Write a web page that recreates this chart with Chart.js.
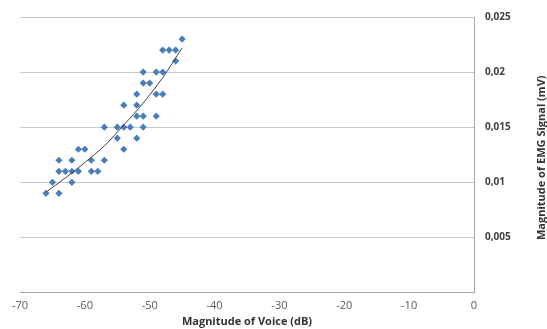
<!DOCTYPE html>
<html>
<head>
<meta charset="utf-8">
<script src="https://cdn.jsdelivr.net/npm/chart.js@4/dist/chart.umd.min.js"></script>
<style>
  html, body { margin: 0; padding: 0; background: #ffffff; }
  #wrap { width: 547px; height: 329px; position: relative; }
</style>
</head>
<body>
<div id="wrap"><canvas id="c" width="547" height="329"></canvas></div>
<script>
// Scatter data: magnitude of voice (dB) vs magnitude of EMG signal (mV)
const voiceDb = [
  -66, -64,
  -65, -62,
  -64, -63, -62, -61, -59, -58,
  -64, -62, -59, -57,
  -61, -60, -54,
  -55, -52,
  -57, -55, -54, -53, -51,
  -52, -51, -49,
  -54, -52,
  -52, -49, -48,
  -51, -50,
  -51, -49, -48,
  -46,
  -48, -47, -46,
  -45
];
const emgMv = [
  0.009, 0.009,
  0.010, 0.010,
  0.011, 0.011, 0.011, 0.011, 0.011, 0.011,
  0.012, 0.012, 0.012, 0.012,
  0.013, 0.013, 0.013,
  0.014, 0.014,
  0.015, 0.015, 0.015, 0.015, 0.015,
  0.016, 0.016, 0.016,
  0.017, 0.017,
  0.018, 0.018, 0.018,
  0.019, 0.019,
  0.020, 0.020, 0.020,
  0.021,
  0.022, 0.022, 0.022,
  0.023
];
// Trend line
const trendX = [-66, -63, -60, -57, -54, -51, -48, -45];
const trendY = [0.0091, 0.0104, 0.0118, 0.0133, 0.0152, 0.0172, 0.0195, 0.0222];
// Axis ticks
const xTicks = [-70, -60, -50, -40, -30, -20, -10, 0];
const yTicks = [0, 0.005, 0.01, 0.015, 0.02, 0.025];

const xTitle = 'Magnitude of Voice (dB)';
const yTitle = 'Magnitude of EMG Signal (mV)';

const points = voiceDb.map((x, i) => ({ x: x, y: emgMv[i] }));
const trend = trendX.map((x, i) => ({ x: x, y: trendY[i] }));

const FONT = "'Open Sans', 'DejaVu Sans', sans-serif";

const yTitlePlugin = {
  id: 'yTitlePlugin',
  afterDraw(chart) {
    const ctx = chart.ctx;
    const ys = chart.scales.y;
    const ca = chart.chartArea;
    ctx.save();
    ctx.translate(ys.right - 5.5, (ca.top + ca.bottom) / 2 + 3);
    ctx.rotate(-Math.PI / 2);
    ctx.font = "bold 11px " + FONT;
    ctx.fillStyle = '#333333';
    ctx.textAlign = 'center';
    ctx.textBaseline = 'middle';
    ctx.fillText(yTitle, 0, 0);
    ctx.restore();
  }
};

new Chart(document.getElementById('c'), {
  type: 'scatter',
  data: {
    datasets: [
      {
        type: 'line',
        data: trend,
        borderColor: '#404040',
        borderWidth: 1,
        pointRadius: 0,
        fill: false,
        cubicInterpolationMode: 'monotone'
      },
      {
        data: points,
        pointStyle: 'rectRot',
        pointRadius: 3.6,
        backgroundColor: '#4a7ebb',
        borderColor: '#4a7ebb',
        borderWidth: 0
      }
    ]
  },
  options: {
    responsive: false,
    animation: false,
    devicePixelRatio: 1,
    layout: { padding: { left: 20, top: 13, right: 0, bottom: 0 } },
    plugins: { legend: { display: false }, tooltip: { enabled: false } },
    scales: {
      x: {
        type: 'linear',
        position: 'bottom',
        min: xTicks[0],
        max: xTicks[xTicks.length - 1],
        afterBuildTicks(scale) { scale.ticks = xTicks.map(v => ({ value: v })); },
        afterFit(scale) { scale.height = 36.5; },
        grid: { display: false, drawTicks: false },
        border: { display: true, color: '#a6a6a6', width: 1 },
        ticks: {
          padding: 7,
          color: '#595959',
          font: { family: FONT, size: 11 },
          maxRotation: 0,
          callback: v => String(v)
        },
        title: {
          display: true,
          text: xTitle,
          color: '#333333',
          font: { family: FONT, size: 11, weight: 'bold' },
          padding: { top: 0, bottom: 0.5 }
        }
      },
      y: {
        type: 'linear',
        position: 'right',
        min: yTicks[0],
        max: yTicks[yTicks.length - 1],
        afterBuildTicks(scale) { scale.ticks = yTicks.map(v => ({ value: v })); },
        afterFit(scale) { scale.width = 73; },
        grid: { color: '#c8c8c8', lineWidth: 1, drawTicks: false },
        border: { display: true, color: '#a6a6a6', width: 1 },
        ticks: {
          padding: 11,
          color: '#404040',
          font: { family: FONT, size: 10, weight: 'bold' },
          callback: v => v === 0 ? '' : String(v).replace('.', ',')
        }
      }
    }
  },
  plugins: [yTitlePlugin]
});
</script>
</body>
</html>
